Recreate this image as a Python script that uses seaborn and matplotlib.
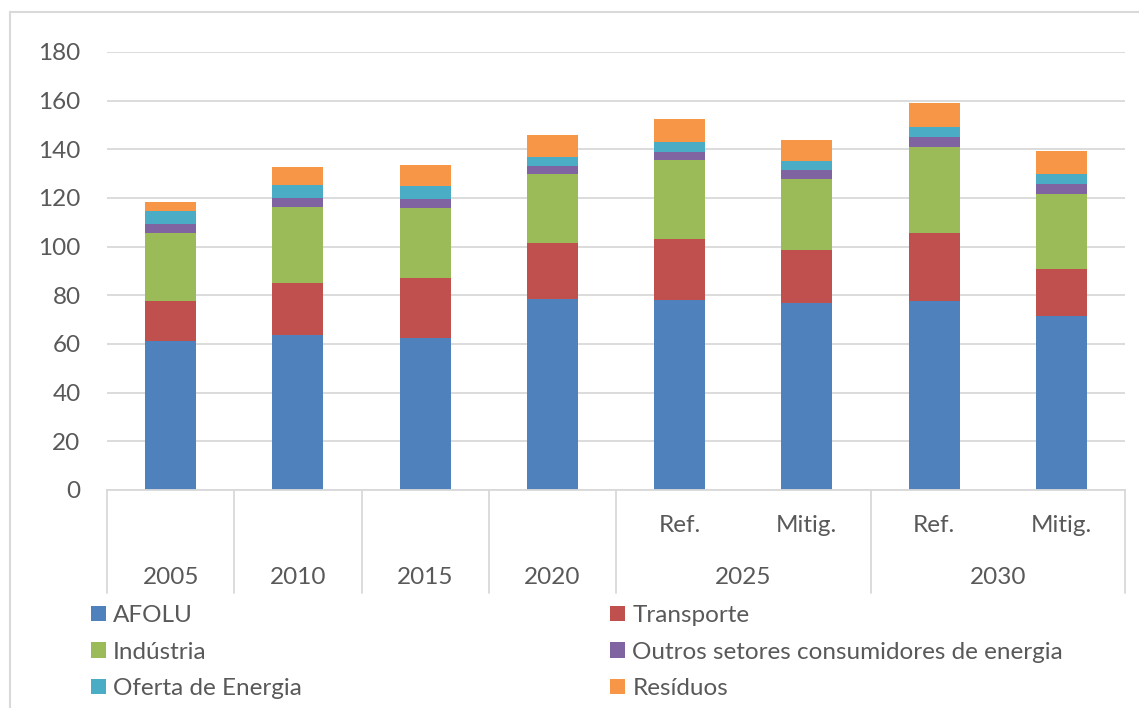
import numpy as np
import pandas as pd
import matplotlib
matplotlib.use("Agg")  # no display in the sandbox
import matplotlib.pyplot as plt
import matplotlib.transforms as mtransforms
from matplotlib.lines import Line2D
import seaborn as sns

# --- data ---
categories = ["2005", "2010", "2015", "2020",
              "2025 Ref.", "2025 Mitig.", "2030 Ref.", "2030 Mitig."]
scenario_labels = ["", "", "", "", "Ref.", "Mitig.", "Ref.", "Mitig."]
year_labels = ["2005", "2010", "2015", "2020", "2025", "2030"]
year_groups = [[0], [1], [2], [3], [4, 5], [6, 7]]  # category indices per year

sectors = ["AFOLU", "Transporte", "Indústria",
           "Outros setores consumidores de energia", "Oferta de Energia", "Resíduos"]
afolu = [61.1, 63.6, 62.3, 78.3, 78.1, 76.7, 77.7, 71.6]
transporte = [16.6, 21.3, 25.0, 23.3, 25.2, 21.8, 27.8, 19.4]
industria = [27.8, 31.6, 28.7, 28.1, 32.2, 29.3, 35.3, 30.7]
outros = [4.0, 3.7, 3.6, 3.6, 3.6, 3.8, 4.3, 4.1]
oferta = [5.2, 5.3, 5.3, 3.6, 4.1, 3.8, 4.2, 4.2]
residuos = [3.7, 7.1, 8.8, 8.9, 9.1, 8.5, 9.6, 9.2]

colors = ["#4F81BD", "#C0504D", "#9BBB59", "#8064A2", "#4BACC6", "#F79646"]

sns.set_theme(style="white")
plt.rcParams["font.family"] = ["Lato", "DejaVu Sans"]

TEXT = "#595959"
LINE = "#D9D9D9"
FS = 17.5

# long table with stacked tops per category
values = [afolu, transporte, industria, outros, oferta, residuos]
rows = []
for s, vals in zip(sectors, values):
    for c, v in zip(categories, vals):
        rows.append({"category": c, "sector": s, "value": v})
df = pd.DataFrame(rows)
df["sector"] = pd.Categorical(df["sector"], categories=sectors, ordered=True)
df = df.sort_values(["category", "sector"])
df["top"] = df.groupby("category", observed=True)["value"].cumsum()

W, H = 1139, 708
fig = plt.figure(figsize=(W / 100, H / 100), dpi=100)
ax = fig.add_axes([107 / W, (H - 490) / H, (1125 - 107) / W, 438 / H])

# draw the stacks from the top segment down so lower ones overlay
for s, col in reversed(list(zip(sectors, colors))):
    sub = df[df["sector"] == s]
    sns.barplot(data=sub, x="category", y="top", order=categories,
                color=col, saturation=1, width=0.4, label=s,
                linewidth=0, ax=ax, errorbar=None)

handles, labels = ax.get_legend_handles_labels()
if ax.get_legend() is not None:
    ax.get_legend().remove()

ax.set_ylim(0, 180)
ax.set_xlim(-0.5, len(categories) - 0.5)
ax.set_yticks(np.arange(0, 181, 20))
ax.tick_params(axis="y", length=0, pad=19, labelsize=FS, labelcolor=TEXT)
ax.tick_params(axis="x", length=0, labelbottom=False)
ax.set_xlabel("")
ax.set_ylabel("")
ax.yaxis.grid(True, color=LINE, lw=1.3)
ax.set_axisbelow(True)
for side in ["left", "right", "top"]:
    ax.spines[side].set_visible(False)
ax.spines["bottom"].set_color(LINE)
ax.spines["bottom"].set_linewidth(1.3)

# two-level category axis
trans = mtransforms.blended_transform_factory(ax.transData, ax.transAxes)
bounds = [-0.5] + [g[-1] + 0.5 for g in year_groups]
for b in bounds:
    ax.plot([b, b], [0, -0.235], transform=trans, clip_on=False,
            color=LINE, lw=1.3)
for i, lab in enumerate(scenario_labels):
    if lab:
        ax.text(i, -0.08, lab, transform=trans, ha="center", va="center",
                fontsize=FS, color=TEXT)
for lab, g in zip(year_labels, year_groups):
    ax.text(np.mean(g), -0.199, lab, transform=trans, ha="center", va="center",
            fontsize=FS, color=TEXT)

# legend, filled row by row like the original
lookup = dict(zip(labels, handles))
order = [sectors[0], sectors[2], sectors[4], sectors[1], sectors[3], sectors[5]]
fig.legend([lookup[k] for k in order], order, ncol=2, loc="upper left",
           bbox_to_anchor=(91 / W, 1 - 605 / H), frameon=False,
           fontsize=FS, labelcolor=TEXT, handlelength=0.6, handleheight=0.6,
           handletextpad=0.3, labelspacing=0.64, columnspacing=12.7,
           borderpad=0, borderaxespad=0)

# light chart frame
fig.add_artist(Line2D([10 / W, 10 / W], [0, 1 - 12 / H], color=LINE, lw=1.5))
fig.add_artist(Line2D([10 / W, 1], [1 - 12 / H, 1 - 12 / H], color=LINE, lw=1.5))

fig.savefig("out.png", dpi=100, facecolor="white")
